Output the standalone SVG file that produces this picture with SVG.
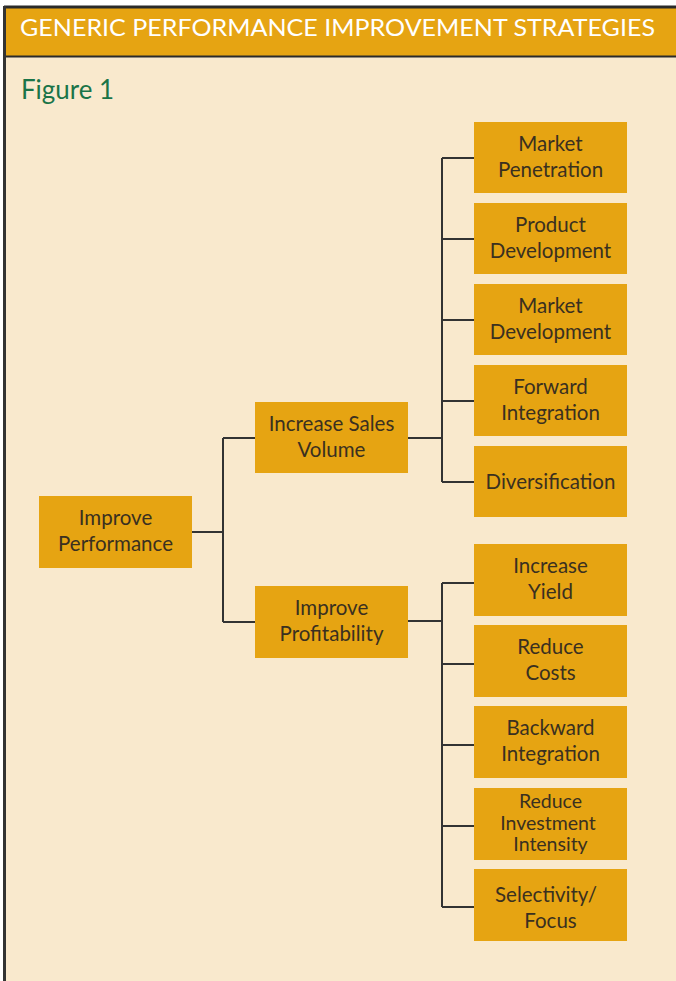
<svg xmlns="http://www.w3.org/2000/svg" width="676" height="981" viewBox="0 0 676 981">
<style>
.bg{fill:#f9e9cd}
.box{fill:#e6a412}
.t{font-family:Lato,"Open Sans",sans-serif;font-size:20.5px;fill:#3a3020;text-anchor:middle}
.s{font-size:19.5px}
.c{fill:none;stroke:#333;stroke-width:2}
</style>
<rect x="0" y="0" width="676" height="981" fill="#ffffff"/>
<rect class="bg" x="4" y="7" width="672" height="974"/>
<rect x="4" y="7" width="672" height="49" fill="#e6a412"/>
<line x1="4" y1="7" x2="676" y2="7" stroke="#2a2a2a" stroke-width="3"/>
<line x1="4" y1="56.5" x2="676" y2="56.5" stroke="#2a2a2a" stroke-width="2"/>
<line x1="4.5" y1="6" x2="4.5" y2="981" stroke="#333" stroke-width="3"/>
<text x="20" y="36" font-family="Lato,'Open Sans',sans-serif" font-size="22.5" fill="#ffffff" textLength="635" lengthAdjust="spacingAndGlyphs">GENERIC PERFORMANCE IMPROVEMENT STRATEGIES</text>
<text x="21" y="99" font-family="Lato,'Open Sans',sans-serif" font-size="26" fill="#1a7448" textLength="93" lengthAdjust="spacingAndGlyphs">Figure 1</text>
<g id="connectors">
<path class="c" d="M192 532H223M223 438V622M223 438H255M223 622H255"/>
<path class="c" d="M408 438H442M442 158V482M442 158H474M442 239H474M442 320H474M442 401H474M442 482H474"/>
<path class="c" d="M408 621H442M442 583V907M442 583H474M442 664H474M442 745H474M442 826H474M442 907H474"/>
</g>
<g id="n-improve-performance"><rect class="box" x="39" y="496" width="153" height="72"/><text class="t" x="115.5" y="525">Improve</text><text class="t" x="115.5" y="551">Performance</text></g>
<g id="n-increase-sales"><rect class="box" x="255" y="402" width="153" height="71"/><text class="t" x="331.5" y="431">Increase Sales</text><text class="t" x="331.5" y="457">Volume</text></g>
<g id="n-improve-profitability"><rect class="box" x="255" y="586" width="153" height="72"/><text class="t" x="331.5" y="615">Improve</text><text class="t" x="331.5" y="641">Profitability</text></g>
<g id="n-market-penetration"><rect class="box" x="474" y="122" width="153" height="71"/><text class="t" x="550.5" y="151">Market</text><text class="t" x="550.5" y="177">Penetration</text></g>
<g id="n-product-development"><rect class="box" x="474" y="203" width="153" height="71"/><text class="t" x="550.5" y="232">Product</text><text class="t" x="550.5" y="258">Development</text></g>
<g id="n-market-development"><rect class="box" x="474" y="284" width="153" height="71"/><text class="t" x="550.5" y="313">Market</text><text class="t" x="550.5" y="339">Development</text></g>
<g id="n-forward-integration"><rect class="box" x="474" y="365" width="153" height="71"/><text class="t" x="550.5" y="394">Forward</text><text class="t" x="550.5" y="420">Integration</text></g>
<g id="n-diversification"><rect class="box" x="474" y="446" width="153" height="71"/><text class="t" x="550.5" y="489">Diversification</text></g>
<g id="n-increase-yield"><rect class="box" x="474" y="544" width="153" height="72"/><text class="t" x="550.5" y="573">Increase</text><text class="t" x="550.5" y="599">Yield</text></g>
<g id="n-reduce-costs"><rect class="box" x="474" y="625" width="153" height="72"/><text class="t" x="550.5" y="654">Reduce</text><text class="t" x="550.5" y="680">Costs</text></g>
<g id="n-backward-integration"><rect class="box" x="474" y="706" width="153" height="72"/><text class="t" x="550.5" y="735">Backward</text><text class="t" x="550.5" y="761">Integration</text></g>
<g id="n-reduce-investment"><rect class="box" x="474" y="788" width="153" height="72"/><text class="t s" x="550.5" y="808">Reduce</text><text class="t s" x="548" y="829.5">Investment</text><text class="t s" x="550.5" y="851">Intensity</text></g>
<g id="n-selectivity"><rect class="box" x="474" y="869" width="153" height="72"/><text class="t" x="546" y="902">Selectivity/</text><text class="t" x="550.5" y="928">Focus</text></g>
</svg>
